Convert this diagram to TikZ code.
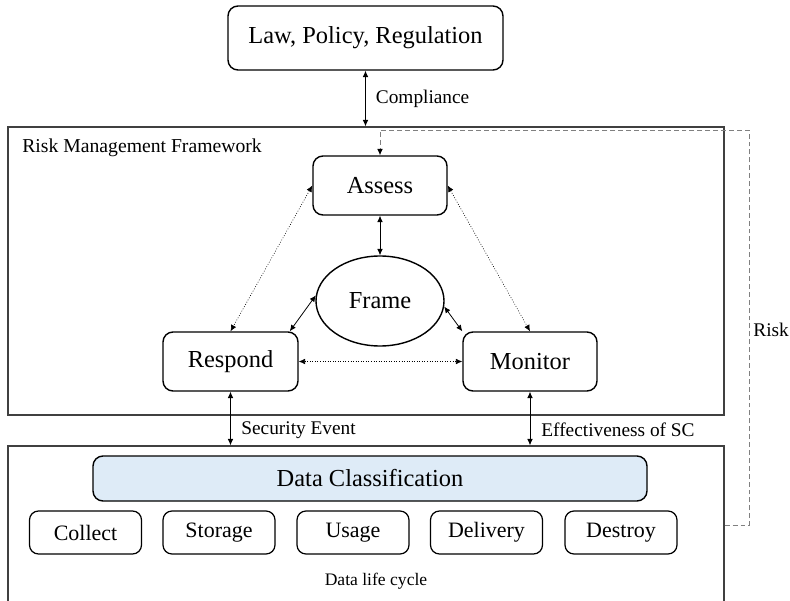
\documentclass[tikz,border=0pt]{standalone}
\usepackage{fontspec}
\setmainfont{Liberation Serif}
\usetikzlibrary{arrows.meta,shapes.geometric}
\definecolor{paleblue}{RGB}{222, 235, 247}
\definecolor{framegray}{RGB}{64, 64, 64}
\definecolor{riskgray}{RGB}{128, 128, 128}

\tikzset{
    stagebox/.style = {draw, line width=0.8pt, rounded corners=0.20cm, inner sep=0pt,
                       minimum width=2.68cm, minimum height=1.18cm, font=\fontsize{13.9}{16}\selectfont},
    phasebox/.style = {draw, line width=0.7pt, rounded corners=0.18cm, inner sep=0pt,
                       minimum width=2.24cm, minimum height=0.86cm, font=\fontsize{12.5}{14}\selectfont},
    region/.style   = {draw=framegray, line width=0.8pt, inner sep=0pt},
    twoway/.style   = {{Latex[length=3.6pt,width=3.2pt]}-{Latex[length=3.6pt,width=3.2pt]}, line width=0.45pt},
    weakway/.style  = {twoway, densely dotted, line width=0.35pt},
    riskline/.style = {-{Latex[length=3.6pt,width=3.2pt,color=black]}, draw=riskgray, line width=0.5pt,
                       dash pattern=on 2.8pt off 1.7pt},
    edgetext/.style = {font=\fontsize{11}{13}\selectfont, inner sep=0pt, anchor=west}
}

\begin{document}
\begin{tikzpicture}
        \useasboundingbox (0.00, 0.00) rectangle (15.80,-12.02);
            % outer regions
            \node[region, minimum width=14.32cm, minimum height=5.76cm]   (rmf)      at ( 7.32,-5.42) {};
            \node[region, minimum width=14.32cm, minimum height=3.18cm]   (life)     at ( 7.32,-10.51) {};
            \node[edgetext, font=\fontsize{11.2}{13}\selectfont]           (rmftitle) at ( 0.44,-2.96) {Risk Management Framework};
            \node[font=\fontsize{10}{12}\selectfont]                      (lifetitle) at ( 7.52,-11.62) {Data life cycle};
            % boxes
            \node[stagebox, minimum width=5.50cm, minimum height=1.28cm]  (law)      at ( 7.31,-0.76) {Law, Policy, Regulation};
            \node[stagebox]                                               (assess)   at ( 7.60,-3.71) {Assess};
            \node[draw, ellipse, line width=0.8pt, inner sep=0pt, minimum width=2.56cm, minimum height=1.80cm,
                  font=\fontsize{13.9}{16}\selectfont]                    (frame)    at ( 7.60,-6.02) {Frame};
            \node[stagebox, minimum width=2.70cm]                         (respond)  at ( 4.61,-7.23) {Respond};
            \node[stagebox]                                               (monitor)  at (10.60,-7.23) {Monitor};
            \node[stagebox, fill=paleblue, minimum width=11.08cm, minimum height=0.90cm]
                                                                          (classify) at ( 7.40,-9.57) {Data Classification};
            \node[phasebox]                                               (collect)  at ( 1.71,-10.65) {Collect};
            \node[phasebox]                                               (storage)  at ( 4.38,-10.65) {Storage};
            \node[phasebox]                                               (usage)    at ( 7.06,-10.65) {Usage};
            \node[phasebox]                                               (delivery) at ( 9.73,-10.65) {Delivery};
            \node[phasebox]                                               (destroy)  at (12.42,-10.65) {Destroy};
            % links
            \draw[twoway]  (law.south)     -- (law.south |- rmf.north)
                 node[edgetext, midway, xshift=0.20cm] {Compliance};
            \draw[twoway]  (assess.south)  -- (frame.north);
            \draw[twoway]  (frame.175)     -- (respond.27);
            \draw[twoway]  (frame.-5)      -- (monitor.156);
            \draw[weakway] (assess.west)   -- (respond.north);
            \draw[weakway] (assess.east)   -- (monitor.north);
            \draw[weakway] (respond.east)  -- (monitor.west);
            \draw[twoway]  (respond.south) -- (respond.south |- life.north)
                 node[edgetext, pos=0.71, xshift=0.21cm] {Security Event};
            \draw[twoway]  (monitor.south) -- (monitor.south |- life.north)
                 node[edgetext, pos=0.71, xshift=0.22cm] {Effectiveness of SC};
            % risk feedback
            \coordinate (riskturn) at (14.98,-2.60);
            \draw[riskline] (life.east) -| (riskturn) -| (assess.north);
            \node[edgetext] (risk) at (15.06,-6.60) {Risk};
        \end{tikzpicture}
\end{document}
